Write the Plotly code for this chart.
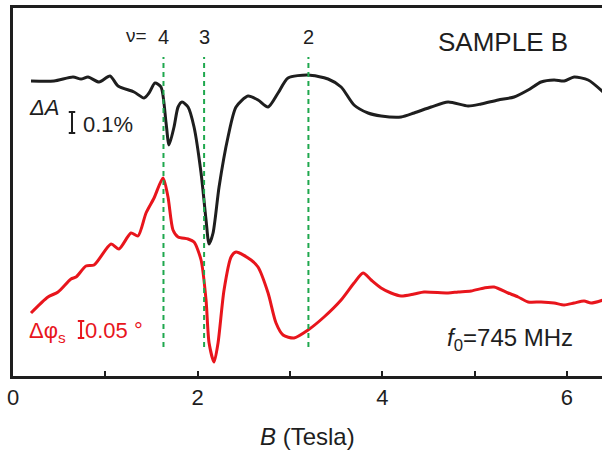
import plotly.graph_objects as go

# Microwave absorption (ΔA) and phase shift (Δφs) vs magnetic field, arbitrary offsets
b_field_A = [0.195, 0.444, 0.650, 0.737, 0.813, 0.932, 1.051, 1.138, 1.311, 1.419,
             1.473, 1.538, 1.603, 1.658, 1.690, 1.744, 1.788, 1.831, 1.896, 1.961,
             2.037, 2.091, 2.124, 2.167, 2.232, 2.329, 2.416, 2.546, 2.654, 2.763,
             2.871, 2.979, 3.196, 3.413, 3.554, 3.694, 3.846, 3.987, 4.204, 4.345,
             4.529, 4.713, 4.930, 5.070, 5.255, 5.428, 5.580, 5.720, 5.861, 5.970,
             6.078, 6.230, 6.392]
delta_A = [296, 296, 300, 298, 300, 295, 301, 291, 285, 279,
           284, 294, 290, 254, 232, 250, 270, 275, 270, 250,
           204, 157, 133, 144, 190, 240, 270, 281, 277, 270,
           284, 299, 302, 298, 290, 272, 264, 261, 260, 264,
           270, 275, 271, 273, 277, 280, 287, 295, 297, 296,
           300, 297, 285]

b_field_phi = [0.195, 0.379, 0.488, 0.628, 0.683, 0.791, 0.878, 1.062, 1.148, 1.278,
               1.354, 1.441, 1.528, 1.625, 1.679, 1.733, 1.788, 1.896, 1.961, 2.037,
               2.091, 2.124, 2.178, 2.221, 2.286, 2.362, 2.416, 2.579, 2.654, 2.763,
               2.849, 2.925, 3.044, 3.196, 3.369, 3.554, 3.694, 3.792, 3.879, 3.987,
               4.095, 4.204, 4.345, 4.453, 4.713, 4.821, 4.962, 5.103, 5.211, 5.363,
               5.471, 5.580, 5.720, 5.861, 5.970, 6.078, 6.186, 6.262, 6.392]
delta_phi = [64, 80, 85, 98, 100, 111, 112, 133, 128, 144,
             141, 164, 179, 199, 180, 147, 140, 138, 135, 117,
             77, 34, 15, 34, 87, 120, 125, 117, 110, 84,
             54, 42, 39, 47, 60, 77, 94, 104, 97, 89,
             84, 81, 83, 85, 84, 85, 86, 89, 90, 84,
             80, 75, 75, 74, 72, 74, 76, 74, 77]

# Filling factors marked by dashed guides
nu_fields = [1.63, 2.07, 3.20]
nu_labels = ["4", "3", "2"]

# Labelled field ticks (unlabelled ticks at every tesla in between)
tick_values = [0, 2, 4, 6]

FONT = "Liberation Sans, Arial, Helvetica, sans-serif"
INK = "#1e1e1e"
RED = "#e8151c"
GREEN = "#1fa84e"

fig = go.Figure()
fig.add_trace(go.Scatter(x=b_field_A, y=delta_A, mode="lines",
                         line=dict(color=INK, width=3, shape="spline", smoothing=0.7),
                         hoverinfo="skip", showlegend=False))
fig.add_trace(go.Scatter(x=b_field_phi, y=delta_phi, mode="lines",
                         line=dict(color=RED, width=3, shape="spline", smoothing=0.7),
                         hoverinfo="skip", showlegend=False))

shapes = []
annotations = []
for bx, lab in zip(nu_fields, nu_labels):
    shapes.append(dict(type="line", xref="x", yref="y", x0=bx, x1=bx, y0=30, y1=320,
                       line=dict(color=GREEN, width=2, dash="5px,4px")))
    annotations.append(dict(x=bx, y=340, xref="x", yref="y", text=lab, showarrow=False,
                            xanchor="center", yanchor="middle",
                            font=dict(family=FONT, size=20, color=INK)))
annotations.append(dict(x=1.474, y=342, xref="x", yref="y", text="ν=", showarrow=False,
                        xanchor="right", yanchor="middle",
                        font=dict(family=FONT, size=19, color=INK)))


def scale_bar(bx, y_lo, y_hi, color):
    cap = 0.035
    return [
        dict(type="line", xref="x", yref="y", x0=bx, x1=bx, y0=y_lo, y1=y_hi,
             line=dict(color=color, width=2)),
        dict(type="line", xref="x", yref="y", x0=bx - cap, x1=bx + cap, y0=y_lo, y1=y_lo,
             line=dict(color=color, width=2)),
        dict(type="line", xref="x", yref="y", x0=bx - cap, x1=bx + cap, y0=y_hi, y1=y_hi,
             line=dict(color=color, width=2)),
    ]


shapes += scale_bar(0.639, 244, 265, INK)
shapes += scale_bar(0.737, 39, 56, RED)

annotations += [
    dict(x=6.03, y=335, xref="x", yref="y", text="SAMPLE B", showarrow=False,
         xanchor="right", yanchor="middle", font=dict(family=FONT, size=26, color=INK)),
    dict(x=0.155, y=270, xref="x", yref="y", text="<i>ΔA</i>", showarrow=False,
         xanchor="left", yanchor="middle", font=dict(family=FONT, size=22, color=INK)),
    dict(x=0.74, y=253, xref="x", yref="y", text="0.1%", showarrow=False,
         xanchor="left", yanchor="middle", font=dict(family=FONT, size=22, color=INK)),
    dict(x=0.15, y=45, xref="x", yref="y", text="Δφ<sub>s</sub>", showarrow=False,
         xanchor="left", yanchor="middle", font=dict(family=FONT, size=22, color=RED)),
    dict(x=0.76, y=47, xref="x", yref="y", text="0.05 °", showarrow=False,
         xanchor="left", yanchor="middle", font=dict(family=FONT, size=22, color=RED)),
    dict(x=4.68, y=38, xref="x", yref="y", text="<i>f</i><sub>0</sub>=745 MHz",
         showarrow=False, xanchor="left", yanchor="middle",
         font=dict(family=FONT, size=24, color=INK)),
    dict(x=0.5, y=0, xref="paper", yref="paper", yshift=-60, text="<i>B</i> (Tesla)",
         showarrow=False, xanchor="center", yanchor="middle",
         font=dict(family=FONT, size=24, color=INK)),
]

fig.update_layout(
    width=602, height=451,
    margin=dict(l=13, r=0, t=8, b=75),
    paper_bgcolor="white", plot_bgcolor="white",
    shapes=shapes, annotations=annotations,
    xaxis=dict(range=[0, 6.38], tickvals=tick_values,
               ticks="inside", ticklen=5, tickwidth=2, tickcolor=INK,
               minor=dict(ticks="inside", dtick=1, ticklen=5, tickwidth=2,
                          tickcolor=INK, showgrid=False),
               showline=True, linewidth=3, linecolor=INK, mirror=True,
               showgrid=False, zeroline=False,
               tickfont=dict(family=FONT, size=22, color=INK)),
    yaxis=dict(range=[1, 369], showticklabels=False, ticks="",
               showline=True, linewidth=3, linecolor=INK,
               showgrid=False, zeroline=False),
)

fig.write_html("out.html")
